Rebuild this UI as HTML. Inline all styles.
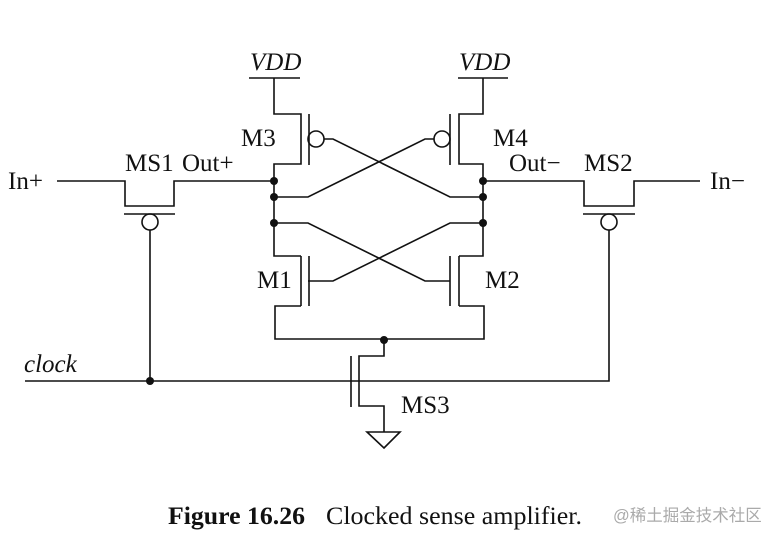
<!DOCTYPE html>
<html><head><meta charset="utf-8"><style>
html,body{margin:0;padding:0;background:#fff;}
svg{display:block;}
text{font-family:"Liberation Serif",serif;fill:#111;}
</style></head><body>
<svg width="775" height="537" viewBox="0 0 775 537" xmlns="http://www.w3.org/2000/svg">
<g stroke="#111" stroke-width="1.6" fill="none">
<line x1="249" y1="78" x2="300" y2="78"/>
<polyline points="274,78 274,114 301,114 301,164 274,164 274,256 301,256"/>
<line x1="309" y1="114" x2="309" y2="165"/>
<circle cx="316" cy="139" r="8"/>
<line x1="458" y1="78" x2="508" y2="78"/>
<polyline points="483,78 483,114 459,114 459,164 483,164 483,256 459,256"/>
<line x1="450" y1="114" x2="450" y2="165"/>
<circle cx="442" cy="139" r="8"/>
<polyline points="324,139 333,139 450,197 483,197"/>
<polyline points="434,139 425,139 308,197 274,197"/>
<polyline points="274,223 308,223 425,281 450,281"/>
<polyline points="483,223 450,223 333,281 308,281"/>
<line x1="301" y1="256" x2="301" y2="306"/>
<line x1="309" y1="256" x2="309" y2="306"/>
<polyline points="301,306 275,306 275,339 484,339 484,306 459,306"/>
<line x1="459" y1="256" x2="459" y2="306"/>
<line x1="450" y1="256" x2="450" y2="306"/>
<polyline points="57,181 125,181 125,206 174,206 174,181 274,181"/>
<line x1="124" y1="214" x2="175" y2="214"/>
<circle cx="150" cy="222" r="8"/>
<line x1="150" y1="230" x2="150" y2="381"/>
<polyline points="483,181 584,181 584,206 634,206 634,181 700,181"/>
<line x1="583" y1="214" x2="635" y2="214"/>
<circle cx="609" cy="222" r="8"/>
<polyline points="609,230 609,381 25,381"/>
<polyline points="384,339 384,356 359,356 359,406 384,406 384,432"/>
<line x1="351" y1="356" x2="351" y2="407"/>
<polygon points="367,432 400,432 384,448"/>
</g>
<g fill="#111">
<circle cx="274" cy="181" r="4"/><circle cx="274" cy="197" r="4"/><circle cx="274" cy="223" r="4"/>
<circle cx="483" cy="181" r="4"/><circle cx="483" cy="197" r="4"/><circle cx="483" cy="223" r="4"/>
<circle cx="384" cy="340" r="4"/><circle cx="150" cy="381" r="4"/>
</g>
<g font-size="25">
<text x="250" y="70" font-style="italic">VDD</text>
<text x="459" y="70" font-style="italic">VDD</text>
<text x="241" y="146">M3</text>
<text x="493" y="146">M4</text>
<text x="8" y="189">In+</text>
<text x="125" y="171">MS1</text>
<text x="182" y="171">Out+</text>
<text x="509" y="171">Out−</text>
<text x="584" y="171">MS2</text>
<text x="710" y="189">In−</text>
<text x="257" y="288">M1</text>
<text x="485" y="288">M2</text>
<text x="24" y="372" font-style="italic">clock</text>
<text x="401" y="413">MS3</text>
</g>
<text x="168" y="524" font-size="25" font-weight="bold" textLength="137" lengthAdjust="spacingAndGlyphs">Figure 16.26</text>
<text x="326" y="524" font-size="25" textLength="256" lengthAdjust="spacingAndGlyphs">Clocked sense amplifier.</text>
<text x="613" y="521" font-size="16.5" style="fill:#aaa;font-family:'Liberation Sans','Noto Sans CJK SC',sans-serif">@稀土掘金技术社区</text>
</svg>
</body></html>
